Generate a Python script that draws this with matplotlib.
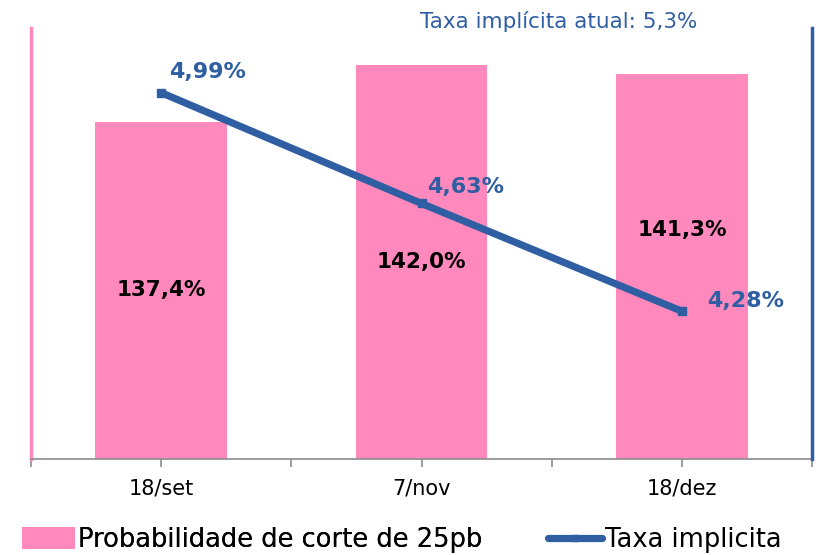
import matplotlib
matplotlib.use("Agg")
import matplotlib.pyplot as plt
from matplotlib.lines import Line2D
from matplotlib.patches import Patch

categories = ["18/set", "7/nov", "18/dez"]
prob_values = [137.4, 142.0, 141.3]
rate_values = [4.99, 4.63, 4.28]
prob_labels = ["137,4%", "142,0%", "141,3%"]
rate_labels = ["4,99%", "4,63%", "4,28%"]
title_text = "Taxa implícita atual: 5,3%"
legend_bar = "Probabilidade de corte de 25pb"
legend_line = "Taxa implicita"

PINK = "#FF88BD"
BLUE = "#2F5EA3"
FONT = ["DejaVu Sans"]
plt.rcParams["font.family"] = FONT

fig = plt.figure(figsize=(8.25, 5.55), dpi=100)
W, H = 825, 555
ax = fig.add_axes([31 / W, 1 - 459 / H, (812 - 31) / W, (459 - 28) / H])
ax2 = ax.twinx()

x = list(range(len(categories)))
ax.bar(x, prob_values, width=0.505, color=PINK, zorder=1)
ax.set_xlim(-0.5, 2.5)
ax.set_ylim(110, 145)
ax2.set_ylim(3.8, 5.2)

ax2.plot(x, rate_values, color=BLUE, lw=5.2, marker="s", markersize=6,
         solid_capstyle="butt", zorder=3)

# spines
for a in (ax, ax2):
    a.spines["top"].set_visible(False)
ax.spines["left"].set_color(PINK)
ax.spines["left"].set_linewidth(2.5)
ax2.spines["left"].set_visible(False)
ax2.spines["right"].set_color(BLUE)
ax2.spines["right"].set_linewidth(2.5)
ax.spines["right"].set_visible(False)
ax2.spines["bottom"].set_visible(False)
ax.spines["bottom"].set_color("#8C8C8C")
ax.spines["bottom"].set_linewidth(1.2)

ax.set_yticks([])
ax2.set_yticks([])
ax.set_xticks(x)
ax.set_xticklabels(categories, fontsize=15)
ax.set_xticks([-0.5, 0.5, 1.5, 2.5], minor=True)
ax.tick_params(axis="x", which="both", direction="out", length=6,
               color="#8C8C8C", width=1.2, pad=8)
ax.set_zorder(1)
ax2.set_zorder(2)
ax2.patch.set_visible(False)

# bar labels (pixel offsets from bar centre)
bar_label_dy = [0, 0, 36]
for i, (v, lab) in enumerate(zip(prob_values, prob_labels)):
    ymid = (ax.get_ylim()[0] + v) / 2
    ax.annotate(lab, (i, ymid), xytext=(0, bar_label_dy[i] * 0.72),
                textcoords="offset points", ha="center", va="center",
                fontsize=15.5, fontweight="bold", color="black", zorder=5)

# line labels
line_dx = [46, 44, 64]
line_dy = [21, 16, 10]
for i, (v, lab) in enumerate(zip(rate_values, rate_labels)):
    ax2.annotate(lab, (i, v), xytext=(line_dx[i] * 0.72, line_dy[i] * 0.72),
                 textcoords="offset points", ha="center", va="center",
                 fontsize=16, fontweight="bold", color=BLUE, zorder=6)

fig.text(559 / W, 1 - 22 / H, title_text, ha="center", va="center",
         fontsize=15.5, color=BLUE)

leg1 = fig.legend([Patch(facecolor=PINK, edgecolor="none")], [legend_bar],
                  loc="center left", bbox_to_anchor=(22 / W, 1 - 540 / H),
                  frameon=False, fontsize=18.5, handlelength=2.05, handleheight=0.9,
                  handletextpad=0.12, borderaxespad=0, borderpad=0)
fig.add_artist(leg1)
leg2 = fig.legend([Line2D([], [], color=BLUE, lw=5.2, marker="s", markersize=4,
                          solid_capstyle="round")], [legend_line],
                  loc="center left", bbox_to_anchor=(548 / W, 1 - 540 / H),
                  frameon=False, fontsize=18.5, handlelength=2.1,
                  handletextpad=0.1, borderaxespad=0, borderpad=0)

fig.savefig("out.png", dpi=100)
